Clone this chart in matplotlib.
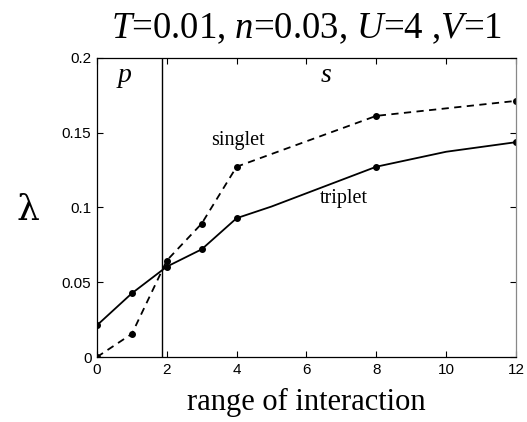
import matplotlib
matplotlib.use("Agg")
import matplotlib.pyplot as plt

# interaction range and pairing eigenvalues
singlet_x = [0, 1, 2, 3, 4, 8, 12]
singlet_y = [0.0, 0.0155, 0.0645, 0.0892, 0.1272, 0.1612, 0.1712]

triplet_line_x = [0, 1, 2, 3, 4, 5, 8, 10, 12]
triplet_line_y = [0.0212, 0.0426, 0.0604, 0.0720, 0.0928, 0.1006, 0.1272, 0.1372, 0.1436]
triplet_marked = [0, 1, 2, 3, 4, 8, 12]

boundary_x = 1.85

xticks = [0, 2, 4, 6, 8, 10, 12]
yticks = [0, 0.05, 0.1, 0.15, 0.2]
ytick_labels = ["0", "0.05", "0.1", "0.15", "0.2"]

plt.rcParams["mathtext.fontset"] = "custom"
plt.rcParams["mathtext.rm"] = "Liberation Serif"
plt.rcParams["mathtext.it"] = "Liberation Serif:italic"

fig = plt.figure(figsize=(5.27, 4.22), dpi=100)
ax = fig.add_axes([0.184, 0.154, 0.795, 0.709])

ax.plot(singlet_x, singlet_y, "k--", lw=1.3, dashes=(4, 3),
        marker="o", ms=4, mfc="k", mec="k")
ax.plot(triplet_line_x, triplet_line_y, "k-", lw=1.3)
tm_y = [triplet_line_y[triplet_line_x.index(v)] for v in triplet_marked]
ax.plot(triplet_marked, tm_y, "ko", ms=4, ls="none")

ax.axvline(boundary_x, color="k", lw=1.0)

ax.set_xlim(0, 12)
ax.set_ylim(0, 0.2)
ax.set_xticks(xticks)
ax.set_yticks(yticks)
ax.set_yticklabels(ytick_labels)
ax.tick_params(direction="in", top=True, right=True, length=4, width=0.8,
               labelsize=11)
ax.tick_params(axis="x", pad=4)
ax.tick_params(axis="y", pad=4)
for lab in ax.get_xticklabels() + ax.get_yticklabels():
    lab.set_family("Liberation Sans")
ax.spines["right"].set_color("#888888")
for s in ax.spines.values():
    s.set_linewidth(0.9)

serif = "Liberation Serif"
ax.text(0.8, 0.1885, "p", fontsize=20, style="italic", family=serif,
        ha="center", va="center")
ax.text(6.55, 0.1885, "s", fontsize=20, style="italic", family=serif,
        ha="center", va="center")
ax.text(4.05, 0.1445, "singlet", fontsize=14.5, family=serif,
        ha="center", va="center")
ax.text(7.06, 0.106, "triplet", fontsize=14.5, family=serif,
        ha="center", va="center")

ax.set_title(r"$T$=0.01, $n$=0.03, $U$=4 ,$V$=1", fontsize=26.5, family=serif,
             pad=14)
ax.set_xlabel("range of interaction", fontsize=22, family=serif, labelpad=8)
fig.text(0.053, 0.502, "λ", fontsize=26, family="DejaVu Serif",
         ha="center", va="center")

fig.savefig("out.png", dpi=100)
